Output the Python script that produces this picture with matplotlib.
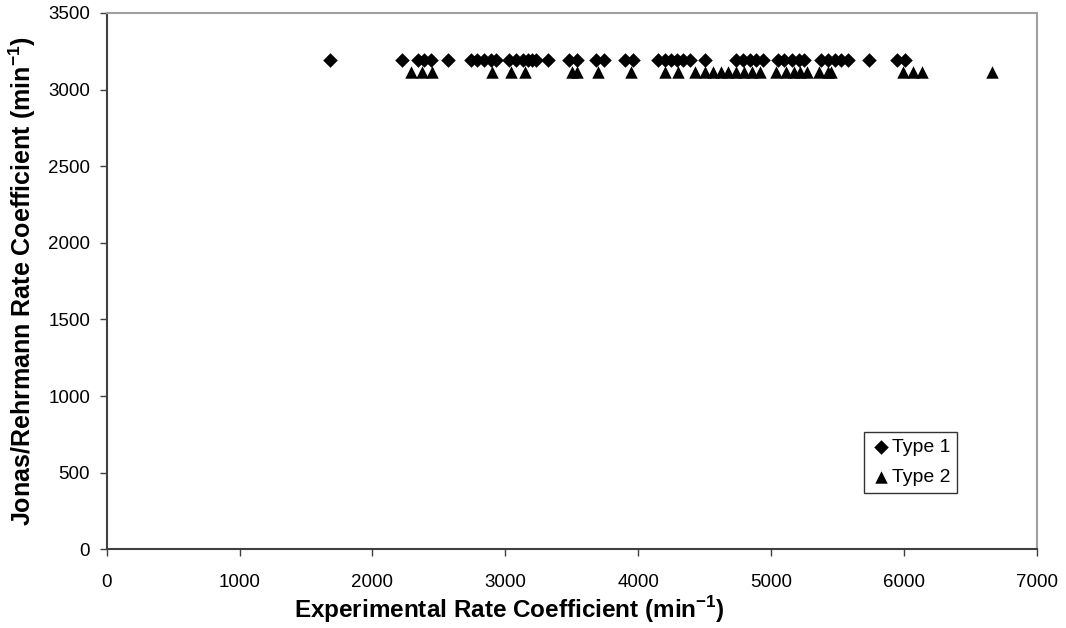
import matplotlib
matplotlib.use("Agg")
import matplotlib.pyplot as plt

type1_x = [1680, 2220, 2340, 2390, 2440, 2570, 2740, 2790, 2840, 2890, 2930, 3030, 3080, 3130,
           3170, 3200, 3230, 3320, 3480, 3540, 3680, 3740, 3900, 3960, 4150, 4200, 4250, 4290,
           4340, 4390, 4500, 4740, 4790, 4840, 4890, 4940, 5050, 5100, 5160, 5210, 5250, 5380,
           5430, 5480, 5530, 5580, 5740, 5950, 6010]
type1_y = [3193] * len(type1_x)

type2_x = [2290, 2370, 2450, 2900, 3040, 3150, 3500, 3540, 3700, 3950, 4200, 4300, 4430,
           4500, 4560, 4620, 4680, 4740, 4800, 4860, 4920, 5040, 5110, 5170, 5220, 5270,
           5360, 5430, 5450, 5990, 6070, 6140, 6660]
type2_y = [3115] * len(type2_x)

series_labels = ["Type 1", "Type 2"]
x_ticks = [0, 1000, 2000, 3000, 4000, 5000, 6000, 7000]
y_ticks = [0, 500, 1000, 1500, 2000, 2500, 3000, 3500]

plt.rcParams['font.family'] = ['Liberation Sans', 'DejaVu Sans']
plt.rcParams['mathtext.fontset'] = 'custom'
plt.rcParams['mathtext.rm'] = 'Liberation Sans'
plt.rcParams['mathtext.bf'] = 'Liberation Sans:bold'

fig = plt.figure(figsize=(10.66, 6.28), dpi=100)
L, R, T, B = 106.7, 1036.7, 13, 549.3
ax = fig.add_axes([L/1066, 1 - B/628, (R-L)/1066, (B-T)/628])

ax.scatter(type1_x, type1_y, marker='D', s=55, color='black', label=series_labels[0], zorder=3, linewidths=0)
ax.scatter(type2_x, type2_y, marker='^', s=80, color='black', label=series_labels[1], zorder=3, linewidths=0)

ax.set_xlim(0, 7000)
ax.set_ylim(0, 3500)
ax.set_xticks(x_ticks)
ax.set_yticks(y_ticks)
ax.tick_params(axis='both', direction='out', length=5, width=1, color='#404040', labelsize=13.5)
ax.tick_params(axis='x', pad=13)
ax.tick_params(axis='y', pad=7)

for side in ['left', 'bottom']:
    ax.spines[side].set_color('#404040')
    ax.spines[side].set_linewidth(1.5)
for side in ['top', 'right']:
    ax.spines[side].set_color('#a0a0a0')
    ax.spines[side].set_linewidth(1.5)

xl = ax.set_xlabel("Experimental Rate Coefficient (min$^{\\mathbf{-1}}$)", fontsize=17.5, fontweight='bold')
yl = ax.set_ylabel("Jonas/Rehrmann Rate Coefficient (min$^{\\mathbf{-1}}$)", fontsize=18, fontweight='bold')
xl.set_va('center')
yl.set_va('center')
ax.xaxis.set_label_coords((509 - L)/(R - L), (B - 610)/(B - T))
ax.yaxis.set_label_coords((22 - L)/(R - L), (B - 281)/(B - T))

leg = ax.legend(loc='upper left', bbox_to_anchor=((864-L)/(R-L), 1 - (432-T)/(B-T)),
                frameon=True, fancybox=False, edgecolor='black', fontsize=14,
                handletextpad=0.1, borderpad=0.35, labelspacing=0.6, handlelength=1.0,
                borderaxespad=0)
leg.get_frame().set_linewidth(1.0)

fig.savefig("out.png", dpi=100)
